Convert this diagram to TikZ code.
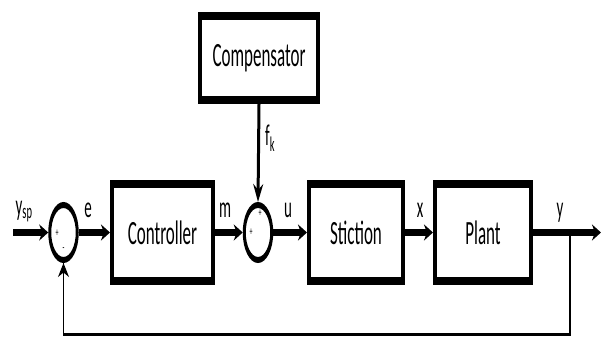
\documentclass[tikz,border=0pt]{standalone}
\usepackage{fontspec}
\setmainfont{Carlito}
\usetikzlibrary{shapes.geometric,arrows.meta}
\begin{document}
\begin{tikzpicture}[x=1pt,y=-1pt]
\useasboundingbox (0,0) rectangle (602,338);
\begin{scope}[transform canvas={xscale=0.5},x=2pt,y=-1pt,
  blk/.style={draw,line width=8pt,inner sep=0pt,minimum height=97pt,font=\fontsize{34}{38}\selectfont},
  sumj/.style={draw,circle,line width=6pt,minimum size=55pt,inner sep=0pt},
  sig/.style={line width=7pt,-{Stealth[length=18pt,width=16pt]}},
  cmp/.style={line width=6pt,-{Stealth[length=18pt,width=20pt]}},
  fb/.style={line width=3.5pt},
  lbl/.style={font=\fontsize{30}{32}\selectfont,inner sep=0pt,anchor=base},
  sgn/.style={font=\fontsize{12}{12}\selectfont,inner sep=0pt}]
\node[blk,minimum width=236pt,minimum height=84pt] (comp) at (259,58) {Compensator};
\node[blk,minimum width=202pt] (ctrl) at (162.5,232.5) {Controller};
\node[blk,minimum width=188pt] (stic) at (356,232.5) {Stiction};
\node[blk,minimum width=192pt] (plant) at (483,232.5) {Plant};
\node[sumj] (s1) at (63.5,232.5) {};
\node[sumj] (s2) at (258,232.5) {};
\coordinate (in) at (13,232.5);
\coordinate (out) at (601,232.5);
\coordinate (br) at (570,232.5);
\draw[sig] (in) -- (s1.west);
\draw[sig] (s1.east) -- (ctrl.west);
\draw[sig] (ctrl.east) -- (s2.west);
\draw[sig] (s2.east) -- (stic.west);
\draw[sig] (stic.east) -- (plant.west);
\draw[sig] (plant.east) -- (out);
\draw[cmp] (comp.south) -- (s2.north);
\draw[fb] (br) -- ++(0,102) -| (s1.south);
\draw[fb,-{Stealth[length=14pt,width=22pt]}] (63.5,300) -- (s1.south);
\node[lbl] at (24,215) {y\textsubscript{sp}};
\node[lbl] at (88,217) {e};
\node[lbl] at (225,217) {m};
\node[lbl] at (288,217) {u};
\node[lbl] at (420,217) {x};
\node[lbl] at (560,217) {y};
\node[lbl] at (270,145) {f\textsubscript{k}};
\node[sgn] at (57,233) {+};
\node[sgn] at (63.5,250) {-};
\node[sgn] at (260,213) {+};
\node[sgn] at (251,232) {+};
\end{scope}
\end{tikzpicture}
\end{document}
